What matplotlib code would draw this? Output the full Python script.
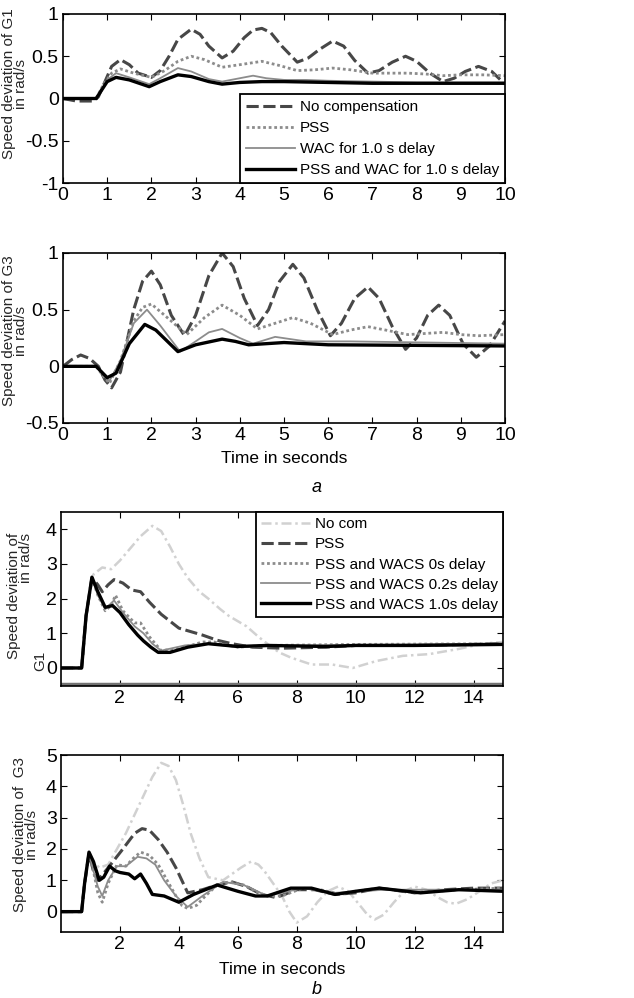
import matplotlib
matplotlib.use("Agg")
import matplotlib.pyplot as plt

plt.rcParams['font.family'] = ['Liberation Sans', 'DejaVu Sans']
plt.rcParams['font.size'] = 14

# ---- panel a, G1 ----
a1_nocomp_t = [0, 0.3, 0.7, 0.8, 0.95, 1.1, 1.3, 1.5, 1.7, 2.0, 2.2, 2.4, 2.6, 2.9, 3.1, 3.3, 3.6, 3.85, 4.1, 4.3,
               4.5, 4.7, 4.95, 5.3, 5.55, 5.8, 6.1, 6.35, 6.6, 6.9, 7.15, 7.45, 7.75, 8.0, 8.3, 8.6, 8.85, 9.1, 9.4,
               9.7, 10.0]
a1_nocomp_v = [0, -0.03, -0.03, 0.02, 0.2, 0.38, 0.46, 0.4, 0.3, 0.25, 0.33, 0.5, 0.7, 0.82, 0.76, 0.62, 0.48, 0.56,
               0.72, 0.81, 0.83, 0.78, 0.62, 0.43, 0.48, 0.58, 0.68, 0.62, 0.45, 0.3, 0.33, 0.43, 0.5, 0.44, 0.3, 0.2,
               0.24, 0.32, 0.38, 0.32, 0.17]
a1_pss_t = [0, 0.75, 0.9, 1.1, 1.3, 1.6, 2.0, 2.3, 2.6, 2.9, 3.2, 3.6, 4.0, 4.5, 4.9, 5.3, 5.7, 6.1, 6.5, 7.0, 7.4,
            7.8, 8.2, 8.6, 9.0, 9.5, 10.0]
a1_pss_v = [0, 0, 0.15, 0.3, 0.35, 0.3, 0.25, 0.33, 0.44, 0.5, 0.46, 0.37, 0.4, 0.44, 0.39, 0.33, 0.34, 0.36, 0.34,
            0.3, 0.3, 0.3, 0.29, 0.27, 0.28, 0.28, 0.27]
a1_wac_t = [0, 0.75, 0.9, 1.0, 1.2, 1.5, 1.95, 2.2, 2.6, 2.9, 3.3, 3.6, 4.0, 4.3, 4.6, 5.0, 5.5, 6.0, 7.0, 8.0, 10.0]
a1_wac_v = [0, 0, 0.12, 0.22, 0.3, 0.25, 0.17, 0.24, 0.36, 0.32, 0.23, 0.2, 0.24, 0.27, 0.24, 0.22, 0.22, 0.21, 0.2,
            0.19, 0.19]
a1_both_t = [0, 0.75, 0.9, 1.0, 1.2, 1.5, 1.95, 2.2, 2.6, 2.9, 3.3, 3.6, 4.0, 4.5, 5.0, 6.0, 7.0, 10.0]
a1_both_v = [0, 0, 0.12, 0.2, 0.25, 0.22, 0.14, 0.2, 0.28, 0.26, 0.2, 0.17, 0.19, 0.2, 0.2, 0.19, 0.18, 0.18]

# ---- panel a, G3 ----
a3_nocomp_t = [0, 0.2, 0.4, 0.6, 0.8, 0.95, 1.1, 1.3, 1.6, 1.8, 2.0, 2.2, 2.45, 2.75, 3.0, 3.3, 3.6, 3.85, 4.1, 4.4,
               4.65, 4.9, 5.2, 5.45, 5.75, 6.05, 6.3, 6.6, 6.9, 7.15, 7.45, 7.75, 8.0, 8.25, 8.5, 8.75, 9.05, 9.35,
               9.65, 10.0]
a3_nocomp_v = [0, 0.06, 0.1, 0.07, 0.0, -0.12, -0.19, -0.05, 0.5, 0.75, 0.84, 0.72, 0.45, 0.27, 0.45, 0.8, 1.0, 0.88,
               0.6, 0.36, 0.5, 0.75, 0.9, 0.78, 0.5, 0.27, 0.38, 0.6, 0.7, 0.6, 0.35, 0.15, 0.25, 0.45, 0.54, 0.45,
               0.2, 0.08, 0.18, 0.4]
a3_pss_t = [0, 0.75, 0.9, 1.05, 1.3, 1.6, 1.8, 2.0, 2.3, 2.8, 3.2, 3.6, 4.0, 4.4, 4.8, 5.2, 5.6, 6.1, 6.5, 6.9, 7.3,
            7.8, 8.2, 8.6, 9.0, 9.4, 10.0]
a3_pss_v = [0, 0, -0.08, -0.15, 0.05, 0.4, 0.52, 0.55, 0.45, 0.28, 0.43, 0.54, 0.45, 0.33, 0.38, 0.43, 0.38, 0.28,
            0.32, 0.35, 0.32, 0.28, 0.29, 0.3, 0.28, 0.27, 0.28]
a3_wac_t = [0, 0.75, 0.9, 1.05, 1.3, 1.6, 1.9, 2.2, 2.65, 3.0, 3.3, 3.6, 4.0, 4.3, 4.8, 5.5, 6.5, 10.0]
a3_wac_v = [0, 0, -0.07, -0.13, 0.05, 0.38, 0.5, 0.36, 0.13, 0.22, 0.3, 0.33, 0.25, 0.2, 0.26, 0.22, 0.22, 0.2]
a3_both_t = [0, 0.75, 0.9, 1.0, 1.2, 1.5, 1.85, 2.1, 2.6, 3.0, 3.6, 3.9, 4.2, 5.0, 6.0, 10.0]
a3_both_v = [0, 0, -0.06, -0.1, -0.06, 0.2, 0.37, 0.32, 0.13, 0.19, 0.24, 0.22, 0.19, 0.21, 0.19, 0.18]

# ---- panel b, G1 ----
b1_nocom_t = [0, 0.7, 0.9, 1.1, 1.4, 1.7, 2.0, 2.3, 2.7, 3.1, 3.4, 3.7, 4.0, 4.3, 4.7, 5.0, 5.4, 5.7, 6.0, 6.3, 6.7,
              7.0, 7.4, 7.8, 8.5, 9.2, 9.9, 10.7, 11.6, 12.5, 13.5, 14.3, 15.0]
b1_nocom_v = [0, 0, 1.8, 2.7, 2.9, 2.85, 3.1, 3.4, 3.8, 4.1, 3.95, 3.5, 3.0, 2.6, 2.2, 2.0, 1.7, 1.5, 1.35, 1.2, 0.9,
              0.7, 0.45, 0.3, 0.1, 0.1, 0.0, 0.2, 0.35, 0.4, 0.55, 0.7, 0.75]
b1_pss_t = [0, 0.7, 0.85, 1.05, 1.25, 1.4, 1.6, 1.8, 2.1, 2.4, 2.7, 3.0, 3.4, 4.0, 4.8, 5.3, 5.8, 6.5, 7.5, 9.0,
            10.0, 12.0, 15.0]
b1_pss_v = [0, 0, 1.5, 2.6, 2.4, 2.2, 2.4, 2.55, 2.45, 2.25, 2.2, 1.9, 1.55, 1.15, 0.95, 0.8, 0.7, 0.6, 0.57, 0.6,
            0.65, 0.65, 0.7]
b1_d0_t = [0, 0.7, 0.85, 1.05, 1.25, 1.5, 1.7, 1.85, 2.1, 2.5, 2.7, 3.0, 3.4, 3.9, 4.4, 4.8, 5.2, 6.0, 7.0, 10.0, 15.0]
b1_d0_v = [0, 0, 1.5, 2.6, 2.1, 1.65, 1.8, 2.1, 1.65, 1.3, 1.3, 0.9, 0.5, 0.55, 0.65, 0.75, 0.75, 0.6, 0.65, 0.68, 0.7]
b1_d02_t = [0, 0.7, 0.85, 1.05, 1.25, 1.5, 1.8, 2.1, 2.5, 2.8, 3.1, 3.4, 4.2, 5.0, 6.0, 8.0, 15.0]
b1_d02_v = [0, 0, 1.5, 2.6, 2.1, 1.7, 1.95, 1.6, 1.2, 1.0, 0.7, 0.5, 0.65, 0.7, 0.6, 0.65, 0.7]
b1_d1_t = [0, 0.7, 0.85, 1.05, 1.25, 1.5, 1.75, 2.0, 2.3, 2.6, 2.8, 3.05, 3.3, 3.7, 4.3, 5.0, 6.0, 7.0, 9.0, 10.0,
           12.0, 15.0]
b1_d1_v = [0, 0, 1.5, 2.62, 2.2, 1.75, 1.8, 1.6, 1.25, 0.95, 0.78, 0.6, 0.45, 0.45, 0.6, 0.7, 0.62, 0.65, 0.62, 0.65,
           0.65, 0.68]

# ---- panel b, G3 ----
b3_nocom_t = [0, 0.7, 0.8, 0.95, 1.1, 1.3, 1.6, 1.9, 2.2, 2.5, 2.8, 3.1, 3.4, 3.65, 3.9, 4.15, 4.4, 4.7, 5.0, 5.5,
              5.8, 6.1, 6.45, 6.7, 6.9, 7.2, 7.5, 7.75, 8.0, 8.35, 8.7, 9.05, 9.4, 9.75, 10.1, 10.4, 10.65, 10.95,
              11.3, 11.65, 12.0, 12.4, 12.8, 13.1, 13.4, 13.8, 14.2, 14.6, 15.0]
b3_nocom_v = [0, 0, 0.9, 1.85, 1.6, 1.4, 1.5, 2.0, 2.5, 3.1, 3.7, 4.3, 4.75, 4.65, 4.2, 3.4, 2.5, 1.7, 1.1, 1.0,
              1.2, 1.4, 1.6, 1.5, 1.3, 0.9, 0.5, 0.0, -0.35, -0.15, 0.3, 0.65, 0.8, 0.65, 0.25, -0.1, -0.25, -0.1,
              0.3, 0.65, 0.8, 0.7, 0.45, 0.3, 0.25, 0.4, 0.65, 0.9, 1.0]
b3_pss_t = [0, 0.7, 0.8, 0.95, 1.1, 1.25, 1.6, 2.1, 2.5, 2.75, 3.0, 3.3, 3.6, 3.9, 4.3, 4.8, 5.3, 5.8, 6.3, 6.8, 7.3,
            8.0, 8.6, 9.3, 10.0, 10.8, 12.0, 13.0, 14.0, 15.0]
b3_pss_v = [0, 0, 0.9, 1.85, 1.3, 1.0, 1.4, 2.0, 2.5, 2.65, 2.6, 2.3, 1.9, 1.4, 0.6, 0.7, 0.85, 0.95, 0.8, 0.55, 0.45,
            0.7, 0.7, 0.55, 0.6, 0.75, 0.6, 0.7, 0.75, 0.75]
b3_d0_t = [0, 0.7, 0.8, 0.95, 1.1, 1.25, 1.4, 1.6, 1.9, 2.2, 2.45, 2.7, 3.0, 3.3, 3.6, 3.9, 4.1, 4.3, 4.6, 4.9, 5.3,
           5.7, 6.2, 6.6, 7.0, 7.5, 8.2, 8.8, 9.5, 10.0, 10.8, 12.0, 13.5, 15.0]
b3_d0_v = [0, 0, 0.9, 1.85, 1.3, 0.6, 0.3, 0.9, 1.5, 1.45, 1.7, 1.9, 1.8, 1.5, 1.0, 0.5, 0.2, 0.1, 0.2, 0.5, 0.85,
           0.95, 0.85, 0.65, 0.5, 0.5, 0.75, 0.7, 0.55, 0.65, 0.75, 0.6, 0.7, 0.75]
b3_d02_t = [0, 0.7, 0.8, 0.95, 1.1, 1.25, 1.4, 1.6, 1.9, 2.2, 2.6, 2.9, 3.2, 3.5, 3.9, 4.3, 4.8, 5.5, 6.2, 7.0, 8.2,
            9.3, 11.0, 15.0]
b3_d02_v = [0, 0, 0.9, 1.85, 1.3, 0.8, 0.5, 1.0, 1.45, 1.45, 1.75, 1.7, 1.5, 1.0, 0.5, 0.15, 0.5, 0.95, 0.85, 0.5,
            0.75, 0.6, 0.7, 0.7]
b3_d1_t = [0, 0.7, 0.8, 0.95, 1.1, 1.3, 1.45, 1.65, 1.85, 2.0, 2.3, 2.5, 2.7, 2.9, 3.1, 3.5, 4.0, 4.5, 5.3, 6.0, 6.6,
           7.0, 7.8, 8.5, 9.3, 10.0, 10.8, 12.2, 13.5, 15.0]
b3_d1_v = [0, 0, 0.9, 1.9, 1.6, 1.0, 1.1, 1.45, 1.3, 1.25, 1.2, 1.05, 1.2, 0.9, 0.55, 0.5, 0.3, 0.55, 0.85, 0.65,
           0.5, 0.5, 0.75, 0.75, 0.55, 0.65, 0.75, 0.6, 0.7, 0.65]

labels_a = ['No compensation', 'PSS', 'WAC for 1.0 s delay', 'PSS and WAC for 1.0 s delay']
labels_b = ['No com', 'PSS', 'PSS and WACS 0s delay', 'PSS and WACS 0.2s delay', 'PSS and WACS 1.0s delay']

# line styles
st_dash = dict(color='0.28', lw=2.2, ls=(0, (4, 1.5)))
st_dot = dict(color='0.55', lw=2.0, ls=(0, (1, 1)))
st_thin = dict(color='0.55', lw=1.3, ls='-')
st_black = dict(color='black', lw=2.4, ls='-')
st_light = dict(color='0.82', lw=1.8, ls=(0, (4, 1.5, 1, 1.5)))

W, H = 634, 998
fig = plt.figure(figsize=(W / 100, H / 100), dpi=100)


def make_ax(left, top, right, bottom):
    ax = fig.add_axes([left / W, 1 - bottom / H, (right - left) / W, (bottom - top) / H])
    ax.tick_params(direction='in', top=True, right=True, length=4, labelsize=14, pad=3)
    for s in ax.spines.values():
        s.set_linewidth(1.2)
    return ax


def ylab(x, y, s, align='center'):
    # rotated label block, centre given in pixels from top-left
    fig.text(x / W, 1 - y / H, s, rotation=90, ha='center', va='center', fontsize=11, color='0.15',
             linespacing=0.85, multialignment=align)


def style_legend(leg):
    fr = leg.get_frame()
    fr.set_edgecolor('black')
    fr.set_linewidth(1.3)
    fr.set_alpha(1)


# a: G1
ax1 = make_ax(63, 14, 505, 183)
ax1.plot(a1_nocomp_t, a1_nocomp_v, label=labels_a[0], **st_dash)
ax1.plot(a1_pss_t, a1_pss_v, label=labels_a[1], **st_dot)
ax1.plot(a1_wac_t, a1_wac_v, label=labels_a[2], **st_thin)
ax1.plot(a1_both_t, a1_both_v, label=labels_a[3], **st_black)
ax1.set_xlim(0, 10)
ax1.set_ylim(-1, 1)
ax1.set_xticks(range(0, 11))
ax1.set_yticks([-1, -0.5, 0, 0.5, 1])
ax1.set_yticklabels(['-1', '-0.5', '0', '0.5', '1'])
ylab(15, 84, 'Speed deviation of G1\nin rad/s')
leg = ax1.legend(loc='lower right', borderaxespad=0, fancybox=False, fontsize=11, handlelength=3.2,
                 labelspacing=0.45, borderpad=0.4, handletextpad=0.3)
style_legend(leg)

# a: G3
ax2 = make_ax(63, 253, 505, 423)
ax2.plot(a3_nocomp_t, a3_nocomp_v, **st_dash)
ax2.plot(a3_pss_t, a3_pss_v, **st_dot)
ax2.plot(a3_wac_t, a3_wac_v, **st_thin)
ax2.plot(a3_both_t, a3_both_v, **st_black)
ax2.set_xlim(0, 10)
ax2.set_ylim(-0.5, 1)
ax2.set_xticks(range(0, 11))
ax2.set_yticks([-0.5, 0, 0.5, 1])
ax2.set_yticklabels(['-0.5', '0', '0.5', '1'])
ylab(15, 331, 'Speed deviation of G3\nin rad/s')
ax2.set_xlabel('Time in seconds', fontsize=12.5, labelpad=5)
fig.text(317 / W, 1 - 487 / H, 'a', fontsize=13, style='italic', ha='center', va='center')

# b: G1
ax3 = make_ax(61, 512, 503, 686)
ax3.plot(b1_nocom_t, b1_nocom_v, label=labels_b[0], **st_light)
ax3.plot(b1_pss_t, b1_pss_v, label=labels_b[1], **st_dash)
ax3.plot(b1_d0_t, b1_d0_v, label=labels_b[2], **st_dot)
ax3.plot(b1_d02_t, b1_d02_v, label=labels_b[3], **st_thin)
ax3.plot(b1_d1_t, b1_d1_v, label=labels_b[4], **st_black)
ax3.axhline(-0.47, color='0.45', lw=2.5)
ax3.set_xlim(0, 15)
ax3.set_ylim(-0.52, 4.5)
ax3.set_xticks([2, 4, 6, 8, 10, 12, 14])
ax3.set_yticks([0, 1, 2, 3, 4])
ylab(20, 596, 'Speed deviation of\nin rad/s', align='right')
ylab(40, 661, 'G1')
leg = ax3.legend(loc='upper right', borderaxespad=0, fancybox=False, fontsize=11, handlelength=3.2,
                 labelspacing=0.4, borderpad=0.35, handletextpad=0.3)
style_legend(leg)

# b: G3
ax4 = make_ax(61, 755, 503, 932)
ax4.plot(b3_nocom_t, b3_nocom_v, **st_light)
ax4.plot(b3_pss_t, b3_pss_v, **st_dash)
ax4.plot(b3_d0_t, b3_d0_v, **st_dot)
ax4.plot(b3_d02_t, b3_d02_v, **st_thin)
ax4.plot(b3_d1_t, b3_d1_v, **st_black)
ax4.set_xlim(0, 15)
ax4.set_ylim(-0.65, 5)
ax4.set_xticks([2, 4, 6, 8, 10, 12, 14])
ax4.set_yticks([0, 1, 2, 3, 4, 5])
ylab(26, 835, 'Speed deviation of  G3\nin rad/s')
ax4.set_xlabel('Time in seconds', fontsize=12.5, labelpad=6)
fig.text(317 / W, 1 - 990 / H, 'b', fontsize=13, style='italic', ha='center', va='center')

fig.savefig('out.png', dpi=100)
